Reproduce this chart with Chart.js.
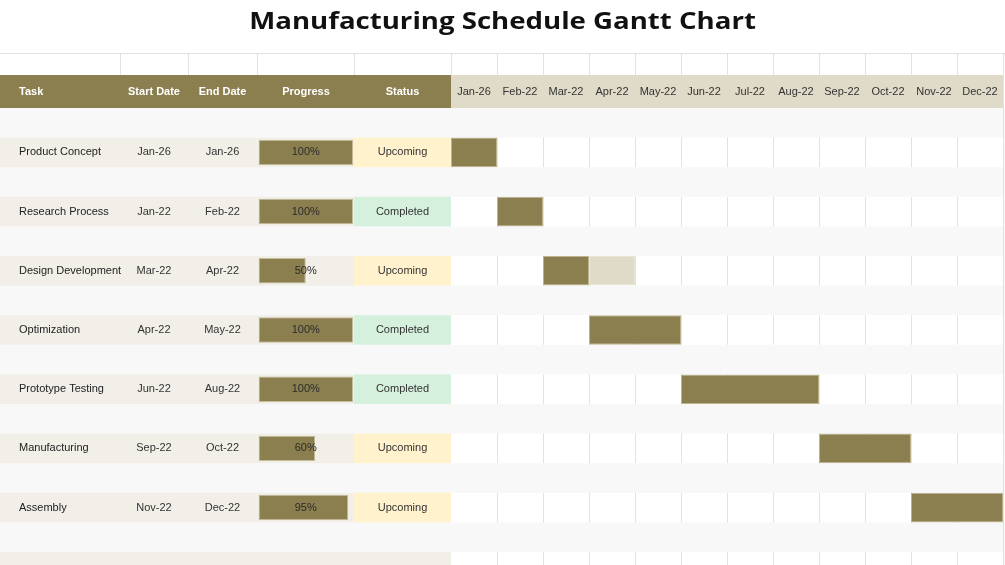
<!DOCTYPE html>
<html>
<head>
<meta charset="utf-8">
<script src="https://cdn.jsdelivr.net/npm/chart.js@4.4.1/dist/chart.umd.min.js"></script>
<style>
    html, body { margin: 0; padding: 0; background: #ffffff; }
    #wrap { position: relative; width: 1005px; height: 565px; overflow: hidden; }
    #wrap canvas { position: absolute; left: 0; top: 0; }
    #titulo {
        position: absolute; left: 0; top: 3px; width: 1005px; height: 40px;
        text-align: center; line-height: 38px;
        font: 700 24px "Open Sans", sans-serif; color: #111111;
        transform: scaleX(1.15); transform-origin: 502px 0;
    }
</style>
</head>
<body>
<div id="wrap">
    <canvas id="gantt" width="1005" height="565"></canvas>
    <canvas id="progresso" width="1005" height="565"></canvas>
    <div id="titulo">Manufacturing Schedule Gantt Chart</div>
</div>
<script>
const tasks = ["Product Concept", "Research Process", "Design Development", "Optimization", "Prototype Testing", "Manufacturing", "Assembly"];
const startDates = ["Jan-26", "Jan-22", "Mar-22", "Apr-22", "Jun-22", "Sep-22", "Nov-22"];
const endDates = ["Jan-26", "Feb-22", "Apr-22", "May-22", "Aug-22", "Oct-22", "Dec-22"];
const progress = [100, 100, 50, 100, 100, 60, 95];
const statuses = ["Upcoming", "Completed", "Upcoming", "Completed", "Completed", "Upcoming", "Upcoming"];
const months = ["Jan-26", "Feb-22", "Mar-22", "Apr-22", "May-22", "Jun-22", "Jul-22", "Aug-22", "Sep-22", "Oct-22", "Nov-22", "Dec-22"];

// month index where each bar starts, where the filled part ends, where the plan ends
const barStart = [0, 1, 2, 3, 5, 8, 10];
const barDoneEnd = [1, 2, 3, 5, 8, 10, 12];
const barPlanEnd = [1, 2, 4, 5, 8, 10, 12];

const OLIVA = "#8b7f4f";
const BEGE_CAB = "#dfdbc8";
const BEGE_LINHA = "#f2efe9";
const CINZA_ESP = "#f8f8f8";
const GRADE = "#e2e2e2";
const corStatus = { Upcoming: "#fff2cc", Completed: "#d5f1dd" };

// spreadsheet column edges on the left side
const colunas = [0, 120, 188, 257, 354, 451];
const topoLinha = 53.5;
const topoCab = 75;
const fimCab = 108;

// one unit per task row, a half-row spacer above each task
function eixoY() {
    return {
        type: "linear",
        display: false,
        offset: false,
        reverse: true,
        min: -0.75,
        max: 6.97,
        ticks: { stepSize: 1, includeBounds: false },
        grid: { offset: false }
    };
}

function linhaPx(yScale, i) {
    return {
        top: yScale.getPixelForValue(i - 0.25),
        bottom: yScale.getPixelForValue(i + 0.25),
        mid: yScale.getPixelForValue(i)
    };
}

const planilhaPlugin = {
    id: "planilha",
    beforeDraw(chart) {
        const { ctx, chartArea, scales, width } = chart;
        const x = scales.x;
        const y = scales.y;
        const linhasMes = months.map((_, m) => x.getPixelForValue(m + 1));

        ctx.save();
        ctx.fillStyle = "#ffffff";
        ctx.fillRect(0, 0, width, chart.height);

        // empty row under the title
        ctx.strokeStyle = GRADE;
        ctx.lineWidth = 1;
        ctx.beginPath();
        ctx.moveTo(0, topoLinha);
        ctx.lineTo(width, topoLinha);
        [...colunas.slice(1), ...linhasMes].forEach(px => {
            const xx = Math.round(px) + 0.5;
            ctx.moveTo(xx, topoLinha);
            ctx.lineTo(xx, topoCab);
        });
        ctx.stroke();

        // header
        ctx.fillStyle = OLIVA;
        ctx.fillRect(0, topoCab, chartArea.left, fimCab - topoCab);
        ctx.fillStyle = BEGE_CAB;
        ctx.fillRect(chartArea.left, topoCab, chartArea.right - chartArea.left, fimCab - topoCab);

        // body
        ctx.fillStyle = CINZA_ESP;
        ctx.fillRect(0, fimCab, width, chart.height - fimCab);

        for (let i = 0; i <= tasks.length; i++) {
            const { top, bottom } = linhaPx(y, i);
            const h = bottom - top;
            const status = statuses[i];

            ctx.fillStyle = BEGE_LINHA;
            ctx.fillRect(0, top, status ? colunas[4] : colunas[5], h);
            if (status) {
                ctx.fillStyle = corStatus[status];
                ctx.fillRect(colunas[4], top, colunas[5] - colunas[4], h);
            }
            ctx.fillStyle = "#ffffff";
            ctx.fillRect(chartArea.left, top, chartArea.right - chartArea.left, h);

            ctx.strokeStyle = GRADE;
            ctx.beginPath();
            linhasMes.forEach(px => {
                const xx = Math.round(px) + 0.5;
                ctx.moveTo(xx, top);
                ctx.lineTo(xx, bottom);
            });
            ctx.stroke();
        }
        ctx.restore();
    },
    afterDatasetsDraw(chart) {
        const { ctx, chartArea, scales } = chart;
        const x = scales.x;
        const y = scales.y;
        const meioCab = (topoCab + fimCab) / 2;
        const centro = k => (colunas[k] + colunas[k + 1]) / 2;

        ctx.save();
        ctx.textBaseline = "middle";

        ctx.font = "700 11px 'Liberation Sans', Arial, sans-serif";
        ctx.fillStyle = "#ffffff";
        ctx.textAlign = "left";
        ctx.fillText("Task", 19, meioCab);
        ctx.textAlign = "center";
        ctx.fillText("Start Date", centro(1), meioCab);
        ctx.fillText("End Date", centro(2), meioCab);
        ctx.fillText("Progress", centro(3) + 0.5, meioCab);
        ctx.fillText("Status", centro(4), meioCab);

        ctx.font = "11px 'Liberation Sans', Arial, sans-serif";
        ctx.fillStyle = "#333333";
        months.forEach((mes, m) => {
            ctx.fillText(mes, x.getPixelForValue(m + 0.5), meioCab);
        });

        tasks.forEach((task, i) => {
            const { mid } = linhaPx(y, i);
            ctx.fillStyle = "#222222";
            ctx.textAlign = "left";
            ctx.fillText(task, 19, mid);
            ctx.fillStyle = "#333333";
            ctx.textAlign = "center";
            ctx.fillText(startDates[i], centro(1), mid);
            ctx.fillText(endDates[i], centro(2), mid);
            ctx.fillText(statuses[i], centro(4), mid);
        });

        // right border of the timeline
        ctx.strokeStyle = GRADE;
        ctx.beginPath();
        ctx.moveTo(Math.round(chartArea.right) + 0.5, topoLinha);
        ctx.lineTo(Math.round(chartArea.right) + 0.5, chart.height);
        ctx.stroke();
        ctx.restore();
    }
};

const rotuloProgressoPlugin = {
    id: "rotuloProgresso",
    afterDatasetsDraw(chart) {
        const { ctx, scales } = chart;
        ctx.save();
        ctx.font = "11px 'Liberation Sans', Arial, sans-serif";
        ctx.fillStyle = "#2b2b2b";
        ctx.textAlign = "center";
        ctx.textBaseline = "middle";
        progress.forEach((valor, i) => {
            ctx.fillText(`${valor}%`, scales.x.getPixelForValue(50), scales.y.getPixelForValue(i));
        });
        ctx.restore();
    }
};

const feito = tasks.map((_, i) => ({ x: [barStart[i], barDoneEnd[i]], y: i }));
const restante = tasks.map((_, i) => barPlanEnd[i] > barDoneEnd[i]
    ? { x: [barDoneEnd[i], barPlanEnd[i]], y: i }
    : null).filter(Boolean);

new Chart(document.getElementById("gantt"), {
    type: "bar",
    data: {
        datasets: [{
            label: "Done",
            data: feito,
            backgroundColor: OLIVA,
            borderColor: "#bcb28c",
            borderWidth: 1,
            borderSkipped: false,
            grouped: false,
            categoryPercentage: 1,
            barPercentage: 0.5
        }, {
            label: "Remaining",
            data: restante,
            backgroundColor: BEGE_CAB,
            borderColor: "#e8e5d6",
            borderWidth: 1,
            borderSkipped: false,
            grouped: false,
            categoryPercentage: 1,
            barPercentage: 0.5
        }]
    },
    plugins: [planilhaPlugin],
    options: {
        indexAxis: "y",
        responsive: false,
        animation: false,
        layout: { padding: { top: fimCab, right: 2, bottom: 0, left: colunas[5] } },
        plugins: { legend: { display: false }, tooltip: { enabled: false } },
        scales: {
            x: { type: "linear", display: false, min: 0, max: months.length },
            y: eixoY()
        }
    }
});

new Chart(document.getElementById("progresso"), {
    type: "bar",
    data: {
        datasets: [{
            label: "Progress",
            data: progress.map((valor, i) => ({ x: valor, y: i })),
            backgroundColor: OLIVA,
            borderColor: "#c4bb98",
            borderWidth: 1,
            borderSkipped: false,
            categoryPercentage: 1,
            barPercentage: 0.43
        }]
    },
    plugins: [rotuloProgressoPlugin],
    options: {
        indexAxis: "y",
        responsive: false,
        animation: false,
        layout: { padding: { top: fimCab, right: 1005 - 353, bottom: 0, left: 258.5 } },
        plugins: { legend: { display: false }, tooltip: { enabled: false } },
        scales: {
            x: { type: "linear", display: false, min: 0, max: 100 },
            y: eixoY()
        }
    }
});
</script>
</body>
</html>
